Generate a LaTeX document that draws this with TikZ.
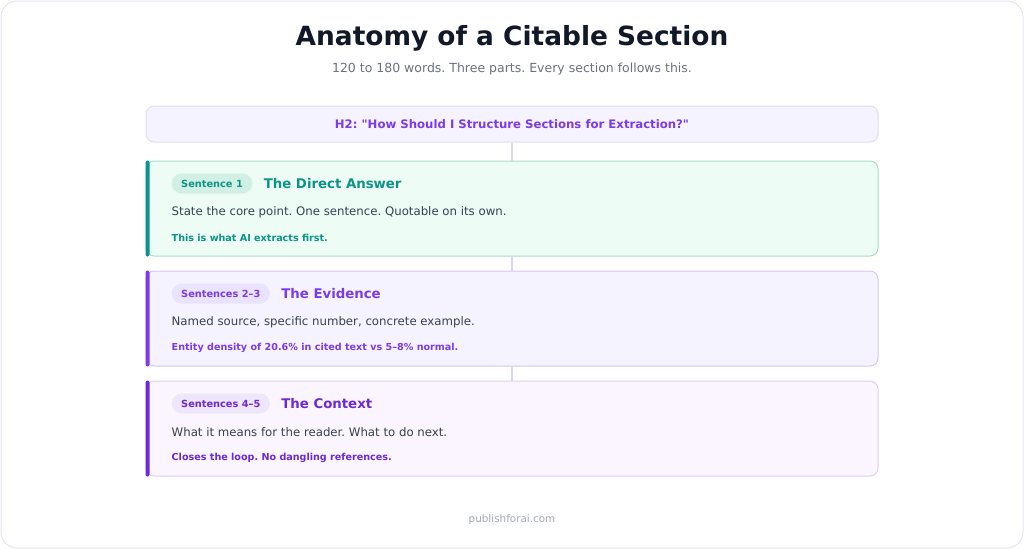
\documentclass[tikz,border=0pt]{standalone}
\usepackage{fontspec}
\setmainfont{DejaVu Sans}
\usetikzlibrary{positioning}
\frenchspacing
\definecolor{titleink}{HTML}{111827}
\definecolor{subgray}{HTML}{6B7280}
\definecolor{bodygray}{HTML}{374151}
\definecolor{footgray}{HTML}{A3A8B0}
\definecolor{framegray}{HTML}{E6E3F3}
\definecolor{linkgray}{HTML}{DCD6EE}
\definecolor{h2fill}{HTML}{F5F3FF}
\definecolor{h2line}{HTML}{E1DAFA}
\definecolor{teal1}{HTML}{0D9488}
\definecolor{tealfill}{HTML}{EDFCF4}
\definecolor{tealline}{HTML}{A9DCCB}
\definecolor{tealbadge}{HTML}{D2EFE6}
\definecolor{violet1}{HTML}{7C3AED}
\definecolor{violetfill}{HTML}{F5F3FF}
\definecolor{violetline}{HTML}{D6C6F6}
\definecolor{violetbadge}{HTML}{EAE3FD}
\definecolor{purple1}{HTML}{6D28D9}
\definecolor{purplefill}{HTML}{FAF5FF}
\definecolor{purpleline}{HTML}{E0CDF5}
\definecolor{purplebadge}{HTML}{EEE6FB}

\begin{document}
\begin{tikzpicture}[x=1pt,y=-1pt,
  card/.style={rectangle,rounded corners=8pt,minimum width=732pt,minimum height=95pt,line width=1pt},
  badge/.style={rectangle,rounded corners=10pt,minimum height=20pt,inner xsep=9.5pt,inner ysep=0pt,anchor=west,font=\fontsize{9.8}{11}\selectfont\bfseries},
  head/.style={inner sep=0pt,font=\fontsize{13.3}{15}\selectfont\bfseries},
  body/.style={inner sep=0pt,anchor=west,text=bodygray,font=\fontsize{11.75}{14}\selectfont},
  note/.style={inner sep=0pt,anchor=west,font=\fontsize{9.6}{11}\selectfont\bfseries},
  link/.style={draw=linkgray,line width=1.5pt}]
\useasboundingbox (0,0) rectangle (1024,549);
\draw [framegray,rounded corners=16pt,line width=1pt] (1,1) rectangle (1023,548);

% heading
\node [font=\fontsize{26.4}{30}\selectfont\bfseries,text=titleink] (title) at (512,38) {Anatomy of a Citable Section};
\node [font=\fontsize{12.5}{15}\selectfont,text=subgray] (sub) at (512,69) {120 to 180 words. Three parts. Every section follows this.};
\node [rectangle,draw=h2line,fill=h2fill,rounded corners=8pt,minimum width=732pt,minimum height=36pt,line width=1pt,text=violet1,font=\fontsize{11.7}{13}\selectfont\bfseries] (h2) at (512,124) {H2: \textquotedbl How Should I Structure Sections for Extraction?\textquotedbl};

% part 1
\node [card,draw=tealline,fill=tealfill] (c1) at (512,208.5) {};
\fill [teal1,rounded corners=2pt] (c1.north west) rectangle ([xshift=4pt]c1.south west);
\node [badge,fill=tealbadge,text=teal1] (b1) at ([xshift=26pt,yshift=-23pt]c1.north west) {Sentence 1};
\node [head,text=teal1,right=11pt of b1] (t1) {The Direct Answer};
\node [body] (d1) at ([xshift=26pt,yshift=-52pt]c1.north west) {State the core point. One sentence. Quotable on its own.};
\node [note,text=teal1] (n1) at ([xshift=26pt,yshift=-77pt]c1.north west) {This is what AI extracts first.};

% part 2
\node [card,draw=violetline,fill=violetfill] (c2) at (512,318.5) {};
\fill [violet1,rounded corners=2pt] (c2.north west) rectangle ([xshift=4pt]c2.south west);
\node [badge,fill=violetbadge,text=violet1] (b2) at ([xshift=26pt,yshift=-23pt]c2.north west) {Sentences 2–3};
\node [head,text=violet1,right=11pt of b2] (t2) {The Evidence};
\node [body] (d2) at ([xshift=26pt,yshift=-52pt]c2.north west) {Named source, specific number, concrete example.};
\node [note,text=violet1] (n2) at ([xshift=26pt,yshift=-77pt]c2.north west) {Entity density of 20.6\% in cited text vs 5–8\% normal.};

% part 3
\node [card,draw=purpleline,fill=purplefill] (c3) at (512,428.5) {};
\fill [purple1,rounded corners=2pt] (c3.north west) rectangle ([xshift=4pt]c3.south west);
\node [badge,fill=purplebadge,text=purple1] (b3) at ([xshift=26pt,yshift=-23pt]c3.north west) {Sentences 4–5};
\node [head,text=purple1,right=11pt of b3] (t3) {The Context};
\node [body] (d3) at ([xshift=26pt,yshift=-52pt]c3.north west) {What it means for the reader. What to do next.};
\node [note,text=purple1] (n3) at ([xshift=26pt,yshift=-77pt]c3.north west) {Closes the loop. No dangling references.};

\draw [link] (h2) -- (c1);
\draw [link] (c1) -- (c2);
\draw [link] (c2) -- (c3);

\node [font=\fontsize{10.4}{12}\selectfont,text=footgray] (foot) at (512,520) {publishforai.com};
\end{tikzpicture}
\end{document}
